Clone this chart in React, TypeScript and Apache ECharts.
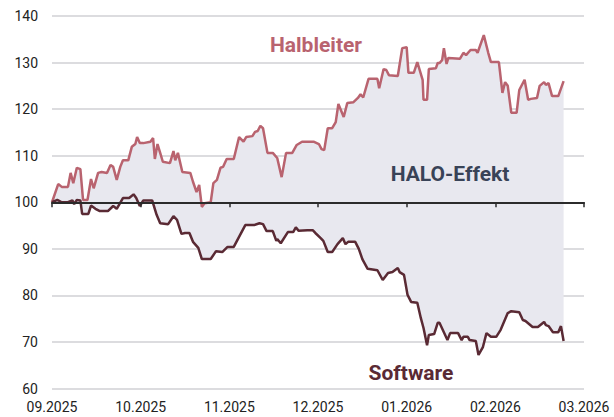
import React, { useEffect, useRef } from "react";
import * as echarts from "echarts";

// x positions are months since 09.2025 (0 = 09.2025, 6 = 03.2026)
const monthLabels = ["09.2025", "10.2025", "11.2025", "12.2025", "01.2026", "02.2026", "03.2026"];
const yTicks = { min: 60, max: 140, interval: 10 };

const halbleiterT = [
  0.0, 0.07, 0.11, 0.18, 0.21, 0.24, 0.28, 0.32, 0.35, 0.4, 0.44, 0.47, 0.52, 0.56, 0.62, 0.66, 0.69, 0.73, 0.77, 0.8,
  0.86, 0.9, 0.94, 0.96, 0.99, 1.03, 1.11, 1.14, 1.16, 1.19, 1.22, 1.25, 1.33, 1.37, 1.39, 1.42, 1.47, 1.56, 1.59, 1.63,
  1.66, 1.69, 1.72, 1.79, 1.82, 1.86, 1.9, 1.93, 1.97, 2.05, 2.11, 2.16, 2.19, 2.26, 2.29, 2.32, 2.35, 2.38, 2.43, 2.49,
  2.54, 2.59, 2.64, 2.71, 2.76, 2.82, 2.95, 3.01, 3.04, 3.07, 3.11, 3.16, 3.2, 3.23, 3.29, 3.33, 3.4, 3.45, 3.48, 3.51,
  3.57, 3.67, 3.69, 3.74, 3.77, 3.8, 3.9, 3.95, 4.0, 4.02, 4.08, 4.12, 4.18, 4.19, 4.23, 4.25, 4.33, 4.35, 4.37, 4.4,
  4.42, 4.45, 4.47, 4.6, 4.64, 4.67, 4.72, 4.78, 4.8, 4.87, 4.92, 4.95, 5.04, 5.08, 5.11, 5.14, 5.18, 5.24, 5.27, 5.33,
  5.37, 5.4, 5.47, 5.5, 5.55, 5.57, 5.6, 5.64, 5.71, 5.77,
];
const halbleiterV = [
  100, 103.9, 103.3, 103.3, 106.3, 104.1, 107.4, 107.1, 100.5, 100.5, 105, 103, 106.3, 106.5, 106.3, 108, 107.6, 104.8, 107.6, 109,
  109, 111.9, 112.5, 114, 112.7, 112.7, 113, 113.8, 109.3, 112.5, 110.6, 108.7, 108.4, 111, 109, 110.6, 106.5, 106.3, 104.4, 102.2,
  103.7, 99, 99.8, 100, 104.1, 104.8, 107.4, 107.6, 109.3, 109.3, 114, 113, 114, 114.2, 115.1, 115.3, 116.4, 115.9, 110.6, 110.6,
  109.5, 105.4, 110.6, 110.6, 112.3, 113, 113, 112.5, 111.4, 111.2, 115.9, 115.9, 117.2, 121.1, 118.3, 121.3, 121.5, 122.4, 123.2, 122.5,
  126.5, 126.5, 124.5, 128.6, 128.4, 127.3, 127.1, 133.1, 133.3, 127.8, 127.8, 130.1, 126.3, 122, 122, 128.6, 128.8, 129.9, 129.9, 130.5,
  133.1, 129.7, 131, 130.8, 132.1, 131.6, 132.7, 132.7, 132.1, 135.9, 132.1, 130.1, 130.1, 123.5, 125.8, 125, 119.2, 119.2, 124.1, 126.3,
  122, 122.2, 122.4, 125, 125.8, 125.2, 125.6, 122.8, 122.8, 126,
];

const softwareT = [
  0.0, 0.06, 0.11, 0.18, 0.23, 0.25, 0.28, 0.32, 0.34, 0.41, 0.44, 0.49, 0.54, 0.63, 0.69, 0.73, 0.8, 0.87, 0.92, 0.95,
  0.99, 1.03, 1.13, 1.18, 1.22, 1.31, 1.37, 1.41, 1.46, 1.5, 1.55, 1.59, 1.65, 1.69, 1.79, 1.85, 1.92, 1.98, 2.05, 2.18,
  2.28, 2.34, 2.38, 2.42, 2.49, 2.53, 2.54, 2.58, 2.66, 2.72, 2.75, 2.78, 2.88, 2.94, 2.97, 3.03, 3.06, 3.11, 3.16, 3.22,
  3.28, 3.31, 3.34, 3.42, 3.46, 3.5, 3.56, 3.67, 3.73, 3.79, 3.84, 3.9, 3.92, 3.97, 4.01, 4.05, 4.12, 4.16, 4.19, 4.23,
  4.25, 4.31, 4.35, 4.37, 4.46, 4.49, 4.58, 4.62, 4.64, 4.69, 4.71, 4.78, 4.81, 4.86, 4.9, 4.95, 5.01, 5.06, 5.14, 5.18,
  5.27, 5.31, 5.34, 5.42, 5.48, 5.55, 5.57, 5.6, 5.65, 5.71, 5.74, 5.77,
];
const softwareV = [
  100, 100.5, 100, 100, 100.4, 99.6, 100.5, 100.4, 97.5, 97.5, 99.3, 98.6, 98.1, 98.1, 99.2, 98.6, 100.9, 100.9, 101.7, 100.9,
  99.2, 100.4, 100.4, 97.3, 95.5, 95.3, 97, 96.2, 93.2, 93.4, 93.4, 91.5, 90.2, 87.8, 87.8, 89.5, 89.3, 90.4, 90.4, 95.1,
  95.1, 95.5, 95.3, 93.8, 93.8, 91.7, 92.1, 91.2, 93.6, 93.6, 94.6, 93.9, 94, 94, 93.4, 92.3, 91.7, 89.3, 89.3, 91,
  92.3, 91, 91.5, 91.5, 90, 87.8, 85.7, 85.4, 83.3, 84.8, 85, 85.9, 85, 84.4, 80.1, 78.6, 78.4, 75.1, 73, 69.3,
  71.5, 71.7, 74.1, 74.1, 70.4, 71.9, 71.9, 70.4, 71.1, 71.1, 70.4, 70.2, 67.2, 68.9, 71.9, 71.1, 71.1, 72.6, 76.2, 76.6,
  76.4, 74.7, 74.5, 73.2, 73.2, 74.3, 73.6, 73.4, 72.1, 72.1, 73.4, 70.2,
];

const baseline = 100;
const names = { semi: "Halbleiter", soft: "Software", halo: "HALO-Effekt" };

const COLORS = {
  semi: "#b9636f",
  soft: "#5a2a34",
  halo: "#394357",
  fill: "#e8e8ef",
  grid: "#dcdcdf",
  text: "#222222",
};
const FONT = "Roboto, 'Liberation Sans', sans-serif";

const pairs = (t: number[], v: number[]) => t.map((x, i) => [x, v[i]]);

export default function App() {
  const ref = useRef<HTMLDivElement>(null);
  useEffect(() => {
    if (!ref.current) return;
    const chart = echarts.init(ref.current, undefined, { renderer: "svg" });
    const semi = pairs(halbleiterT, halbleiterV);
    const soft = pairs(softwareT, softwareV);
    const plotTop = 16;
    const plotBottom = 28.5;
    const plotH = 417 - plotTop - plotBottom;
    const baseOffset = -((yTicks.max - baseline) / (yTicks.max - yTicks.min)) * plotH;
    chart.setOption({
      animation: false,
      textStyle: { fontFamily: FONT },
      grid: { left: 52, right: 30, top: plotTop, bottom: plotBottom, containLabel: false },
      xAxis: [
        {
          type: "value",
          min: 0,
          max: 6,
          interval: 1,
          position: "bottom",
          axisLine: { show: false },
          axisTick: { show: false },
          splitLine: { show: false },
          axisLabel: {
            formatter: (v: number) => monthLabels[Math.round(v)] ?? "",
            color: COLORS.text,
            fontSize: 14,
            fontFamily: FONT,
            margin: 11,
          },
        },
        {
          type: "value",
          min: 0,
          max: 6,
          interval: 1,
          position: "top",
          offset: baseOffset,
          z: 10,
          axisLine: { show: true, lineStyle: { color: "#2b2b2b", width: 2 } },
          axisTick: { show: true, inside: true, length: 5, lineStyle: { color: "#2b2b2b", width: 1.5 } },
          axisLabel: { show: false },
          splitLine: { show: false },
        },
      ],
      yAxis: {
        type: "value",
        min: yTicks.min,
        max: yTicks.max,
        interval: yTicks.interval,
        axisLine: { show: false },
        axisTick: { show: false },
        axisLabel: { color: COLORS.text, fontSize: 14, fontFamily: FONT, margin: 14 },
        splitLine: { show: true, lineStyle: { color: COLORS.grid, width: 2 } },
      },
      series: [
        {
          type: "line",
          name: names.semi + "-fill",
          data: semi,
          xAxisIndex: 0,
          showSymbol: false,
          lineStyle: { width: 0 },
          areaStyle: { color: COLORS.fill, opacity: 1, origin: baseline },
          z: 2,
        },
        {
          type: "line",
          name: names.soft + "-fill",
          data: soft,
          xAxisIndex: 0,
          showSymbol: false,
          lineStyle: { width: 0 },
          areaStyle: { color: COLORS.fill, opacity: 1, origin: baseline },
          z: 2,
        },
        {
          type: "line",
          name: names.semi,
          data: semi,
          xAxisIndex: 0,
          showSymbol: false,
          lineStyle: { color: COLORS.semi, width: 2.5 },
          z: 5,
        },
        {
          type: "line",
          name: names.soft,
          data: soft,
          xAxisIndex: 0,
          showSymbol: false,
          lineStyle: { color: COLORS.soft, width: 2.5 },
          z: 6,
        },
      ],
      graphic: [
        {
          type: "text",
          x: 316,
          y: 45,
          z: 20,
          style: {
            text: names.semi,
            fill: COLORS.semi,
            font: `bold 21px ${FONT}`,
            textAlign: "center",
            textVerticalAlign: "middle",
          },
        },
        {
          type: "text",
          x: 450,
          y: 174,
          z: 20,
          style: {
            text: names.halo,
            fill: COLORS.halo,
            font: `bold 21px ${FONT}`,
            textAlign: "center",
            textVerticalAlign: "middle",
          },
        },
        {
          type: "text",
          x: 411,
          y: 373,
          z: 20,
          style: {
            text: names.soft,
            fill: COLORS.soft,
            font: `bold 21px ${FONT}`,
            textAlign: "center",
            textVerticalAlign: "middle",
          },
        },
      ],
    });
    return () => chart.dispose();
  }, []);
  return (
    <div
      ref={ref}
      style={{ position: "fixed", left: 0, top: 0, width: 614, height: 417, background: "#ffffff" }}
    />
  );
}
